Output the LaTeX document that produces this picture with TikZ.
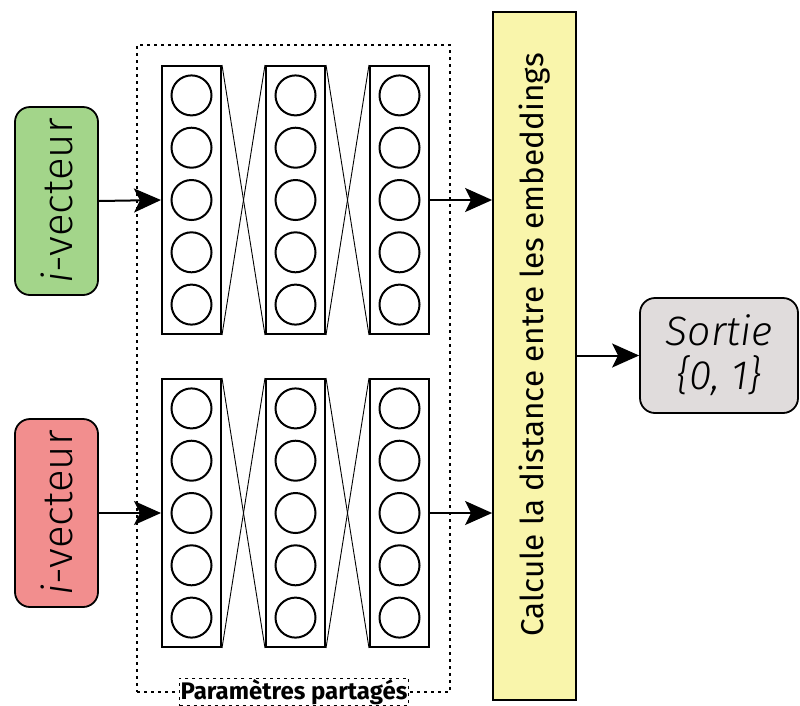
\documentclass[tikz,border=0pt]{standalone}
\usepackage{fontspec}
\setmainfont{Fira Sans}[UprightFont=* Light, ItalicFont=* Light Italic, BoldFont=* Bold, BoldItalicFont=* Bold Italic]
\newfontfamily\regfont{Fira Sans}
\usetikzlibrary{arrows.meta}
\definecolor{gfill}{HTML}{A3D58A}
\definecolor{rfill}{HTML}{F28E8E}
\definecolor{yfill}{HTML}{F9F5AB}
\definecolor{sfill}{HTML}{E0DCDC}
\tikzset{
  layerbox/.style={draw, line width=2pt, minimum width=59pt, minimum height=268pt, inner sep=0pt},
  neuron/.style={circle, draw, line width=2pt, minimum size=40pt, inner sep=0pt},
  cross/.style={line width=0.9pt},
  inbox/.style={draw, line width=1.8pt, rounded corners=15pt, minimum width=83pt, minimum height=188pt, inner sep=0pt},
  conn/.style={line width=2pt, -{Stealth[length=27pt,width=24pt,inset=6pt]}},
}
\begin{document}
\begin{tikzpicture}[x=1pt,y=-1pt]
\useasboundingbox (0,0) rectangle (800,705);
% shared dashed frame
\node[draw, dash pattern=on 3pt off 4pt, line width=1.5pt, minimum width=313pt, minimum height=647pt, inner sep=0pt] (shared) at (293.5,368.5) {};
\node[draw, dash pattern=on 3pt off 4pt, line width=1.5pt, fill=white, font=\bfseries\fontsize{24}{26}\selectfont, inner sep=1pt] (sharedlbl) at (294,692) {Paramètres partagés};
% networks
\foreach \net/\cy in {u/200, l/513}{
  \foreach \c/\cx in {1/191.5, 2/295.5, 3/399.5}{
    \node[layerbox] (\net\c) at (\cx,\cy) {};
    \foreach \k/\dy in {1/-104.6, 2/-52.3, 3/0, 4/52.3, 5/104.6}{
      \node[neuron] (\net\c n\k) at (\cx,\cy+\dy) {};
    }
  }
  \draw[cross] (\net1.north east) -- (\net2.south west);
  \draw[cross] (\net1.south east) -- (\net2.north west);
  \draw[cross] (\net2.north east) -- (\net3.south west);
  \draw[cross] (\net2.south east) -- (\net3.north west);
}
% inputs
\node[inbox, fill=gfill] (inA) at (56.5,201) {\rotatebox{90}{\fontsize{42}{44}\selectfont\textit{i}-vecteur}};
\node[inbox, fill=rfill] (inB) at (56.5,513) {\rotatebox{90}{\fontsize{42}{44}\selectfont\textit{i}-vecteur}};
% distance box
\node[draw, line width=1.8pt, fill=yfill, minimum width=83pt, minimum height=688pt, inner sep=0pt] (dist) at (534.5,356) {\rotatebox{90}{\regfont\fontsize{31.5}{33}\selectfont\hspace*{22pt}Calcule la distance entre les embeddings}};
% output
\node[draw, line width=1.8pt, fill=sfill, rounded corners=15pt, minimum width=158pt, minimum height=115pt, inner sep=0pt, align=center, font=\itshape\fontsize{41}{44}\selectfont] (out) at (719,355.5) {Sortie\\\{0, 1\}};
% connectors
\draw[conn] (inA.east) -- (u1.west);
\draw[conn] (inB.east) -- (l1.west);
\draw[conn] (u3.east) -- (dist.west |- u3.east);
\draw[conn] (l3.east) -- (dist.west |- l3.east);
\draw[conn] (dist.east |- out.west) -- (out.west);
\end{tikzpicture}
\end{document}
